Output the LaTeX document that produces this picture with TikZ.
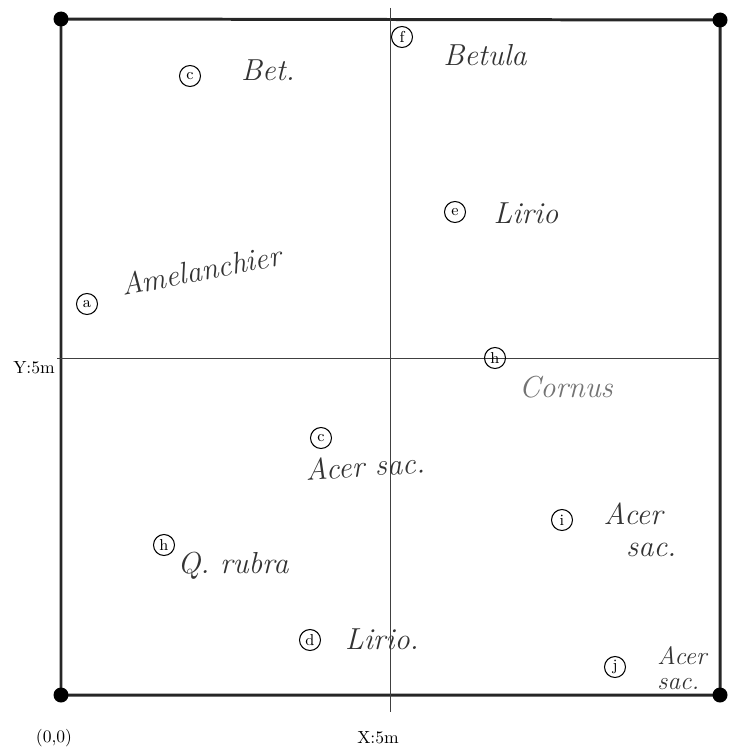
\documentclass[tikz,border=0pt]{standalone}
\usepackage{tikz}
\usetikzlibrary{positioning}
\tikzset{
  plot frame/.style={
    draw=black!85, line width=1.7pt
  },
  plot axis/.style={
    draw=black!75, line width=0.5pt
  },
  corner pin/.style={
    circle, fill=black, minimum size=0.3cm, inner sep=0pt
  },
  tree mark/.style={
    circle, draw=black, line width=0.6pt, minimum size=0.42cm,
    inner sep=0pt, font=\small
  },
  tree name/.style={
    font=\LARGE\itshape, text=black!80, inner sep=1pt, align=left
  },
  axis label/.style={
    font=\normalsize, inner sep=1pt
  }
}

\begin{document}
\begin{tikzpicture}[x=0.02cm, y=-0.02cm]
\useasboundingbox (0,0) rectangle (736,750);

% ====== PLOT: 10m x 10m square ======
\coordinate (sw) at (61,695);
\coordinate (se) at (720,695);
\coordinate (ne) at (720,20);
\coordinate (nw) at (61,19);
\draw[plot frame] (sw) -- (se) -- (ne) -- (nw) -- cycle;
\foreach \c in {sw,se,ne,nw}
  \node[corner pin] (pin-\c) at (\c) {};

% -- midlines --
\coordinate (xtop) at (390,8);
\coordinate (xbot) at (390,712);
\coordinate (yleft) at (57,358);
\coordinate (yright) at (720,358);
\draw[plot axis] (xtop) -- (xbot);
\draw[plot axis] (yleft) -- (yright);

% -- axis labels --
\node[axis label] (origin) at (54,738) {(0,0)};
\node[axis label] (xmid) at (378,738) {X:5m};
\node[axis label] (ymid) at (34,368) {Y:5m};

% ====== TREES: upper half ======
\node[tree mark] (tc1) at (190,76) {c};
\node[tree name] (nc1) at (268,70) {Bet.};
\node[tree mark] (tf) at (402,37) {f};
\node[tree name] (nf) at (485,55) {Betula};
\node[tree mark] (te) at (455,212) {e};
\node[tree name] (ne1) at (526,213) {Lirio};
\node[tree mark] (ta) at (87,304) {a};
\node[tree name, rotate=11] (na) at (201,270) {Amelanchier};
\node[tree mark] (th1) at (495,358) {h};
\node[tree name, text=black!55] (nh1) at (566,387) {Cornus};

% ====== TREES: lower half ======
\node[tree mark] (tc2) at (321,438) {c};
\node[tree name, rotate=4] (nc2) at (365,466) {Acer sac.};
\node[tree mark] (ti1) at (562,520) {i};
\node[tree name] (ni1) at (640,530) {Acer\\[-4pt]\hspace{0.45cm}sac.};
\node[tree mark] (th2) at (164,545) {h};
\node[tree name] (nh2) at (233,566) {Q. rubra};
\node[tree mark] (td) at (310,640) {d};
\node[tree name] (nd) at (382,639) {Lirio.};
\node[tree mark] (tj) at (615,667) {j};
\node[tree name, font=\Large\itshape] (nj) at (682,668) {Acer\\[-4pt]sac.};

\end{tikzpicture}
\end{document}
